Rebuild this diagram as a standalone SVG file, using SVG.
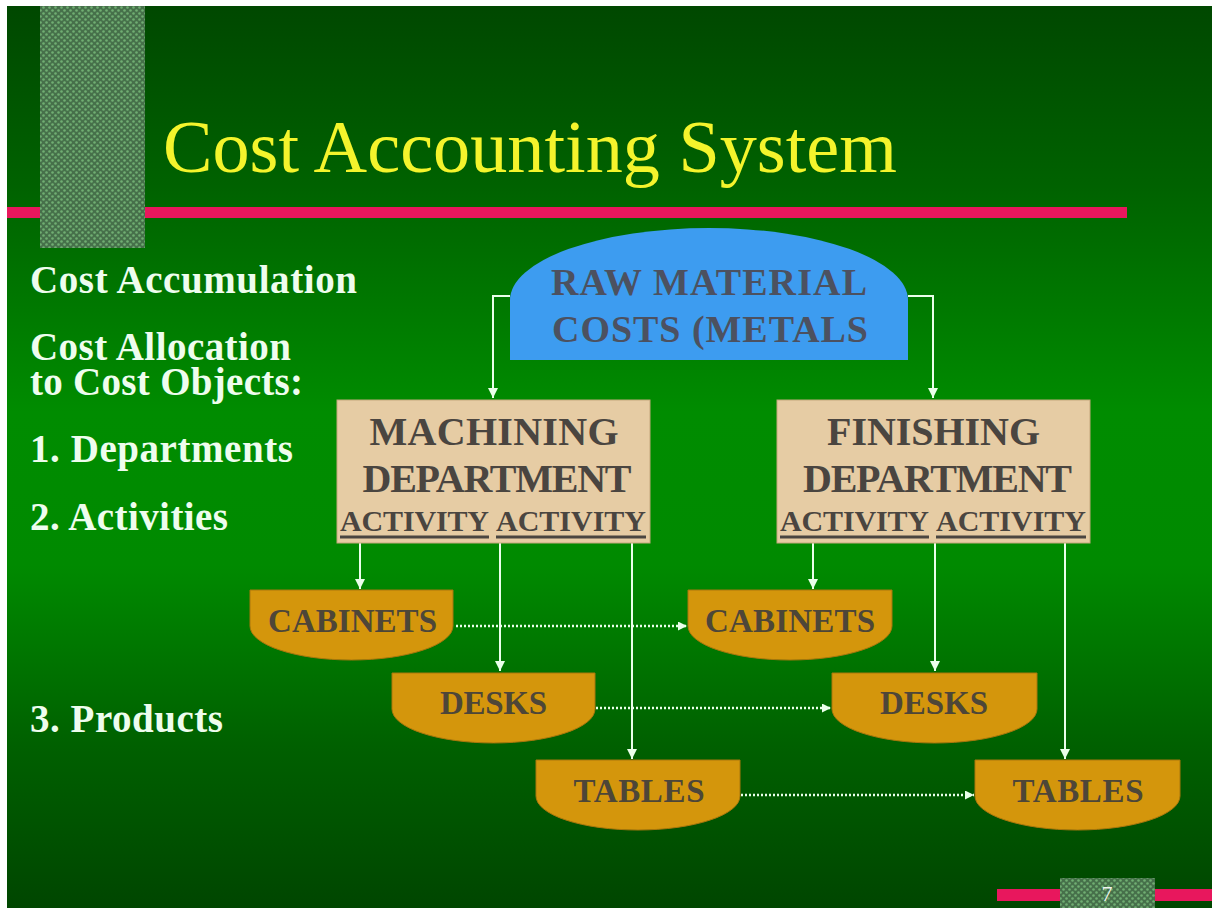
<svg xmlns="http://www.w3.org/2000/svg" width="1212" height="908" viewBox="0 0 1212 908">
<defs>
<linearGradient id="bg" x1="0" y1="0" x2="0" y2="1">
<stop offset="0" stop-color="#004800"/>
<stop offset="0.2" stop-color="#006200"/>
<stop offset="0.45" stop-color="#008c00"/>
<stop offset="0.62" stop-color="#008a00"/>
<stop offset="0.82" stop-color="#006000"/>
<stop offset="1" stop-color="#004600"/>
</linearGradient>
<pattern id="tex" width="6" height="6" patternUnits="userSpaceOnUse">
<rect width="6" height="6" fill="#46704a"/>
<circle cx="1.5" cy="1.5" r="1.3" fill="#70ae72"/>
<circle cx="4.5" cy="4.5" r="1.3" fill="#70ae72"/>
</pattern>
<marker id="ah" viewBox="0 0 10 10" refX="10" refY="5" markerWidth="10" markerHeight="10" markerUnits="userSpaceOnUse" orient="auto">
<path d="M0,0 L10,5 L0,10 Z" fill="#eaffea"/>
</marker>
<marker id="ahs" viewBox="0 0 10 10" refX="10" refY="5" markerWidth="9" markerHeight="9" markerUnits="userSpaceOnUse" orient="auto">
<path d="M0,0 L10,5 L0,10 Z" fill="#eaffea"/>
</marker>
</defs>
<style>
.side{font-family:"Liberation Serif","Times New Roman",serif;font-weight:bold;font-size:39px;fill:#eefdee}
.title{font-family:"Liberation Serif","Times New Roman",serif;font-size:75px;fill:#f4f42c}
.nt{font-family:"Liberation Serif","Times New Roman",serif;font-weight:bold;text-anchor:middle}
.raw{font-size:38px;fill:#4c5160}
.dep{font-size:40px;fill:#4a4540}
.act{font-size:30px;fill:#4a4540}
.prod{font-size:33px;fill:#4d4638}
.tan{fill:#e6cca4;stroke:#c4a77c;stroke-width:1}
.gold{fill:#d4960c;stroke:#a9760c;stroke-width:1}
.ul{stroke:#4a4540;stroke-width:3}
.conn{fill:none;stroke:#eaffea;stroke-width:2}
.dot{fill:none;stroke:#eaffea;stroke-width:2.5;stroke-dasharray:2 2}
</style>
<rect x="0" y="0" width="1212" height="908" fill="#ffffff"/>
<rect x="7" y="6" width="1205" height="902" fill="url(#bg)"/>
<rect x="7" y="207" width="1120" height="11" fill="#e8175d"/>
<rect x="40" y="6" width="105" height="242" fill="url(#tex)"/>
<text class="title" x="163" y="172" textLength="734" lengthAdjust="spacingAndGlyphs">Cost Accounting System</text>
<g id="side-labels">
<text class="side" x="30" y="293" textLength="327">Cost Accumulation</text>
<text class="side" x="30" y="360" textLength="261">Cost Allocation</text>
<text class="side" x="30" y="395" textLength="273">to Cost Objects:</text>
<text class="side" x="30" y="462" textLength="263">1. Departments</text>
<text class="side" x="30" y="530" textLength="198">2. Activities</text>
<text class="side" x="30" y="732" textLength="193">3. Products</text>
</g>
<g id="connectors">
<path class="conn" d="M510,296 H493 V398" marker-end="url(#ah)"/>
<path class="conn" d="M908,296 H933 V398" marker-end="url(#ah)"/>
<path class="conn" d="M360,543 V589" marker-end="url(#ah)"/>
<path class="conn" d="M500,543 V671" marker-end="url(#ah)"/>
<path class="conn" d="M632,543 V759" marker-end="url(#ah)"/>
<path class="conn" d="M813,543 V589" marker-end="url(#ah)"/>
<path class="conn" d="M935,543 V671" marker-end="url(#ah)"/>
<path class="conn" d="M1065,543 V759" marker-end="url(#ah)"/>
<path class="dot" d="M456,626 H687" marker-end="url(#ahs)"/>
<path class="dot" d="M596,708 H831" marker-end="url(#ahs)"/>
<path class="dot" d="M741,795 H974" marker-end="url(#ahs)"/>
</g>
<g id="raw-material">
<path d="M510,360 V300 A199,72 0 0 1 908,300 V360 Z" fill="#3d9cf0"/>
<text class="nt raw" x="709" y="295" textLength="316">RAW MATERIAL</text>
<text class="nt raw" x="710" y="342" textLength="316">COSTS (METALS</text>
</g>
<g id="machining">
<rect class="tan" x="337" y="400" width="313" height="143"/>
<text class="nt dep" x="494" y="445" textLength="249">MACHINING</text>
<text class="nt dep" x="497" y="492" textLength="269">DEPARTMENT</text>
<text class="nt act" x="414.5" y="531" textLength="149">ACTIVITY</text>
<text class="nt act" x="571" y="531" textLength="150">ACTIVITY</text>
<line class="ul" x1="340" y1="537" x2="489" y2="537"/>
<line class="ul" x1="496" y1="537" x2="646" y2="537"/>
</g>
<g id="finishing">
<rect class="tan" x="777" y="400" width="313" height="143"/>
<text class="nt dep" x="933.5" y="445" textLength="213">FINISHING</text>
<text class="nt dep" x="937.5" y="492" textLength="269">DEPARTMENT</text>
<text class="nt act" x="854.5" y="531" textLength="149">ACTIVITY</text>
<text class="nt act" x="1011" y="531" textLength="150">ACTIVITY</text>
<line class="ul" x1="780" y1="537" x2="929" y2="537"/>
<line class="ul" x1="936" y1="537" x2="1086" y2="537"/>
</g>
<g id="cabinets-1">
<path class="gold" d="M250,590 H453 V626 A101.5,34 0 0 1 250,626 Z"/>
<text class="nt prod" x="352.5" y="632" textLength="169">CABINETS</text>
</g>
<g id="desks-1">
<path class="gold" d="M392,673 H595 V709 A101.5,34 0 0 1 392,709 Z"/>
<text class="nt prod" x="493.5" y="714" textLength="107">DESKS</text>
</g>
<g id="tables-1">
<path class="gold" d="M536,760 H740 V796 A102,34 0 0 1 536,796 Z"/>
<text class="nt prod" x="639" y="802" textLength="131">TABLES</text>
</g>
<g id="cabinets-2">
<path class="gold" d="M688,590 H892 V626 A102,34 0 0 1 688,626 Z"/>
<text class="nt prod" x="790" y="632" textLength="170">CABINETS</text>
</g>
<g id="desks-2">
<path class="gold" d="M832,673 H1037 V709 A102.5,34 0 0 1 832,709 Z"/>
<text class="nt prod" x="934" y="714" textLength="108">DESKS</text>
</g>
<g id="tables-2">
<path class="gold" d="M975,760 H1180 V796 A102.5,34 0 0 1 975,796 Z"/>
<text class="nt prod" x="1078" y="802" textLength="131">TABLES</text>
</g>
<rect x="997" y="889" width="215" height="12" fill="#e8175d"/>
<rect x="1060" y="878" width="95" height="30" fill="url(#tex)"/>
<text x="1107" y="901" font-family="Liberation Serif, serif" font-size="22" fill="#f0f4f0" text-anchor="middle">7</text>
</svg>
